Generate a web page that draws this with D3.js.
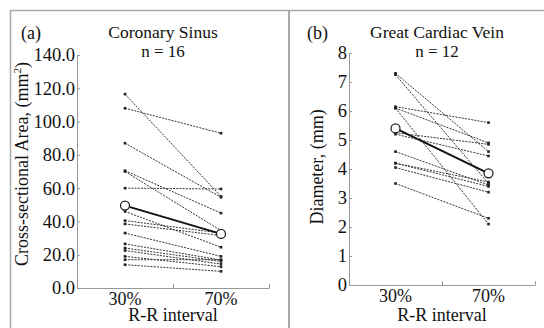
<!DOCTYPE html>
<html>
<head>
<meta charset="utf-8">
<script src="https://cdn.jsdelivr.net/npm/d3@7"></script>
<style>
  html, body { margin: 0; padding: 0; background: #fff; }
  svg { display: block; }
  svg text { font-family: "Times New Roman", Times, "Liberation Serif", "DejaVu Serif", "Noto Serif", serif; }
</style>
</head>
<body>
<svg id="chart" width="544" height="328"></svg>
<script>
// R-R interval categories
const phases = ['30%', '70%'];

// (a) Coronary sinus, cross-sectional area (mm^2), one entry per subject
const csAt30 = [116.5, 108, 87, 70.5, 70, 60, 46, 40.5, 38.5, 33, 26.5, 24, 22.5, 19, 17, 14];
const csAt70 = [55, 93, 54.5, 45, 34.5, 59.5, 24.5, 33, 31.5, 19, 16.8, 16, 14.4, 12.8, 17, 10];
const csMean = [49.5, 32.5];
const csTicks = [0, 20, 40, 60, 80, 100, 120, 140];

// (b) Great cardiac vein, diameter (mm)
const gcvAt30 = [7.3, 7.25, 6.15, 6.1, 6.1, 5.25, 5.2, 4.6, 4.2, 4.2, 4.05, 3.5];
const gcvAt70 = [4.6, 3.5, 5.6, 2.1, 4.9, 4.85, 4.45, 3.45, 3.55, 3.4, 3.2, 2.3];
const gcvMean = [5.4, 3.85];
const gcvTicks = [0, 1, 2, 3, 4, 5, 6, 7, 8];

const FONT = '"Times New Roman", Times, "Liberation Serif", "DejaVu Serif", serif';
const svg = d3.select('#chart');

// frame lines of the figure table
svg.append('line').attr('x1', 10).attr('x2', 544).attr('y1', 10.5).attr('y2', 10.5)
  .attr('stroke', '#aaa').attr('stroke-width', 1.5);
svg.append('line').attr('x1', 10.5).attr('x2', 10.5).attr('y1', 10).attr('y2', 328)
  .attr('stroke', '#aaa').attr('stroke-width', 1.5);
svg.append('line').attr('x1', 289).attr('x2', 289).attr('y1', 10).attr('y2', 328)
  .attr('stroke', '#aaa').attr('stroke-width', 2);

function drawPanel(opt) {
  const x = d3.scaleBand().domain(phases).range(opt.xRange);
  const xEdges = d3.scaleLinear().domain([0, phases.length]).range(opt.xRange);
  const y = d3.scaleLinear().domain(opt.yDomain).range(opt.yRange);
  const g = svg.append('g').attr('font-family', FONT);

  // y axis, ticks pointing inward
  const yAxis = g.append('g')
    .attr('transform', `translate(${opt.xRange[0]},0)`)
    .call(d3.axisLeft(y).tickValues(opt.ticks).tickFormat(opt.fmt)
      .tickSizeInner(-3).tickSizeOuter(0).tickPadding(2))
    .attr('font-family', FONT).attr('font-size', 18.5);
  yAxis.select('.domain').attr('stroke', '#999');
  yAxis.selectAll('.tick line').attr('stroke', '#999');
  yAxis.selectAll('.tick text').attr('fill', '#111');

  // x axis line with boundary ticks
  const xAxis = g.append('g')
    .attr('transform', `translate(0,${opt.yRange[0]})`)
    .call(d3.axisBottom(xEdges).tickValues([1, 2]).tickFormat('').tickSizeInner(-4).tickSizeOuter(0));
  xAxis.select('.domain').attr('stroke', '#999');
  xAxis.selectAll('.tick line').attr('stroke', '#999');

  // category labels
  g.append('g')
    .attr('transform', `translate(0,${opt.yRange[0]})`)
    .call(d3.axisBottom(x).tickSize(0).tickPadding(4))
    .attr('font-family', FONT).attr('font-size', 18)
    .call(s => s.select('.domain').remove())
    .selectAll('text').attr('fill', '#111');

  const cx = (opt.xRange[0] + opt.xRange[1]) / 2;
  g.append('text').attr('x', cx).attr('y', 321).attr('text-anchor', 'middle')
    .attr('font-size', 18).attr('fill', '#111').text('R-R interval');

  // y label
  const yl = g.append('text')
    .attr('transform', `translate(${opt.yLabelX},${opt.yLabelY}) rotate(-90)`)
    .attr('text-anchor', 'middle').attr('font-size', 18).attr('fill', '#111');
  opt.yLabel(yl);

  // titles
  g.append('text').attr('x', opt.tagX).attr('y', 39).attr('font-size', 18).attr('fill', '#111').text(opt.tag);
  g.append('text').attr('x', opt.titleX).attr('y', 38).attr('text-anchor', 'middle')
    .attr('font-size', 17.5).attr('fill', '#111').text(opt.title);
  g.append('text').attr('x', opt.titleX).attr('y', 56.5).attr('text-anchor', 'middle')
    .attr('font-size', 17).attr('fill', '#111').text(opt.n);

  const px = i => x(phases[i]) + x.bandwidth() / 2;
  const subjects = opt.a.map((v, i) => [opt.a[i], opt.b[i]]);

  // individual subjects
  g.selectAll('.subj').data(subjects).join('line')
    .attr('x1', px(0)).attr('x2', px(1))
    .attr('y1', d => y(d[0])).attr('y2', d => y(d[1]))
    .attr('stroke', '#333').attr('stroke-width', 1).attr('stroke-dasharray', '2,1.2');
  const pts = subjects.flatMap(d => [[0, d[0]], [1, d[1]]]);
  g.selectAll('.pt').data(pts).join('rect')
    .attr('x', d => px(d[0]) - 1.3).attr('y', d => y(d[1]) - 1.3)
    .attr('width', 2.6).attr('height', 2.6).attr('fill', '#222');

  // mean
  g.append('line')
    .attr('x1', px(0)).attr('x2', px(1))
    .attr('y1', y(opt.mean[0])).attr('y2', y(opt.mean[1]))
    .attr('stroke', '#111').attr('stroke-width', 2);
  g.selectAll('.mean').data(opt.mean).join('circle')
    .attr('cx', (d, i) => px(i)).attr('cy', d => y(d)).attr('r', 4.5)
    .attr('fill', '#fff').attr('stroke', '#222').attr('stroke-width', 1.3);
}

drawPanel({
  xRange: [77, 269], yDomain: [0, 140], yRange: [288, 55],
  ticks: csTicks, fmt: d3.format('.1f'),
  a: csAt30, b: csAt70, mean: csMean,
  tag: '(a)', tagX: 21, title: 'Coronary Sinus', n: 'n = 16', titleX: 163,
  yLabelX: 28, yLabelY: 164,
  yLabel: t => {
    t.append('tspan').text('Cross-sectional Area, (mm');
    t.append('tspan').attr('dy', -7).attr('font-size', 11).text('2');
    t.append('tspan').attr('dy', 7).text(')');
  }
});

drawPanel({
  xRange: [349, 535], yDomain: [0, 8], yRange: [285, 53],
  ticks: gcvTicks, fmt: d3.format('d'),
  a: gcvAt30, b: gcvAt70, mean: gcvMean,
  tag: '(b)', tagX: 307, title: 'Great Cardiac Vein', n: 'n = 12', titleX: 437,
  yLabelX: 323, yLabelY: 167,
  yLabel: t => t.text('Diameter, (mm)')
});
</script>
</body>
</html>
